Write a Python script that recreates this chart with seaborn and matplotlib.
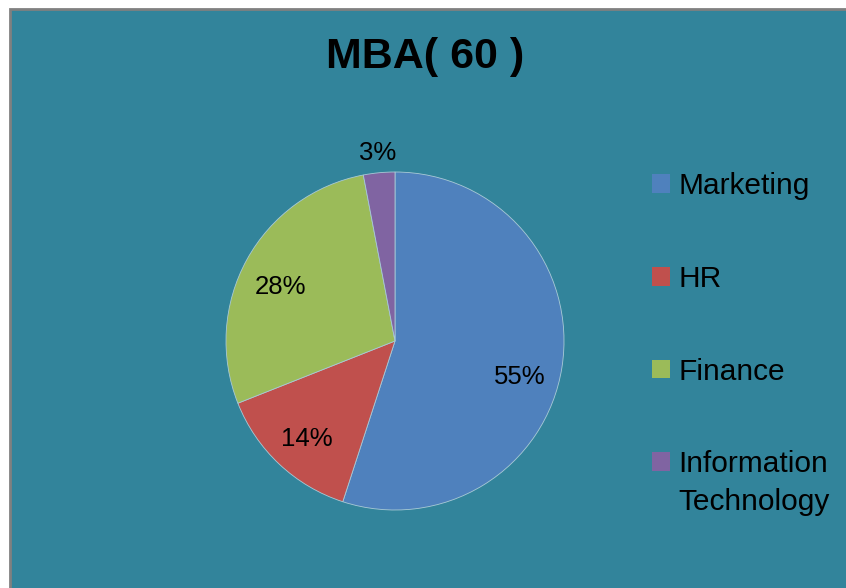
import numpy as np
import matplotlib.pyplot as plt
import seaborn as sns
from matplotlib.patches import Rectangle

sns.set_theme(style="white")
plt.rcParams['font.family'] = ['Liberation Sans', 'DejaVu Sans']
plt.rcParams['text.color'] = 'black'

# 데이터
title = "MBA( 60 )"
specializations = ["Marketing", "HR", "Finance", "Information"]
extra_line = "Technology"
shares = [55, 14, 28, 3]
colors = sns.color_palette(["#4F81BD", "#C0504D", "#9BBB59", "#8064A2"])

W, H = 846, 588
fig = plt.figure(figsize=(W / 100, H / 100), dpi=100)
fig.patch.set_facecolor("white")

# 배경 (청록색 차트 영역 + 회색 테두리)
fig.patches.append(Rectangle((10 / W, -0.05), 1.0, 1.05 - 9 / H,
                             transform=fig.transFigure, facecolor="#32849B",
                             edgecolor="#808080", linewidth=2, zorder=-5))

# 파이 차트 영역
cx, cy, r = 395, H - 341, 169
ax = fig.add_axes([(cx - r) / W, (cy - r) / H, 2 * r / W, 2 * r / H])
ax.set_facecolor("none")
ax.set_zorder(2)

wedges, texts, autotexts = ax.pie(
    shares, colors=colors, startangle=90, counterclock=False,
    autopct='%d%%', pctdistance=0.77,
    wedgeprops=dict(edgecolor="#A9CAD6", linewidth=0.6),
    textprops=dict(fontsize=18.5, color="black"))
ax.set_xlim(-1, 1)
ax.set_ylim(-1, 1)
ax.set_aspect("equal")
ax.axis("off")

# 라벨 위치 미세 조정 (각도 보정, 반지름)
label_shift = [(-7, 0.77), (1.5, 0.78), (3.6, 0.75), (0, 1.12)]
for w, t, (d_ang, rad) in zip(wedges, autotexts, label_shift):
    ang = np.deg2rad((w.theta1 + w.theta2) / 2 + d_ang)
    t.set_position((rad * np.cos(ang), rad * np.sin(ang)))

# 제목
fig.text(425 / W, 1 - 57 / H, title, ha="center", va="center",
         fontsize=31, fontweight="bold", color="black")

# 범례
leg = fig.legend(wedges, specializations, loc="upper left",
                 bbox_to_anchor=(637 / W, 1 - 157 / H), frameon=False,
                 fontsize=21.5, handlelength=0.6, handleheight=0.6,
                 handletextpad=0.28, labelspacing=2.17, borderpad=0)
for h in leg.legend_handles:
    h.set_edgecolor("none")
for t in leg.get_texts():
    t.set_color("black")

# 두 번째 줄 ("Technology")
fig.canvas.draw()
bb = leg.get_texts()[3].get_window_extent()
fig.text(bb.x0 / W, (bb.y0 - 10) / H, extra_line, ha="left", va="top",
         fontsize=21.5, color="black")

plt.savefig("out.png", dpi=100)
